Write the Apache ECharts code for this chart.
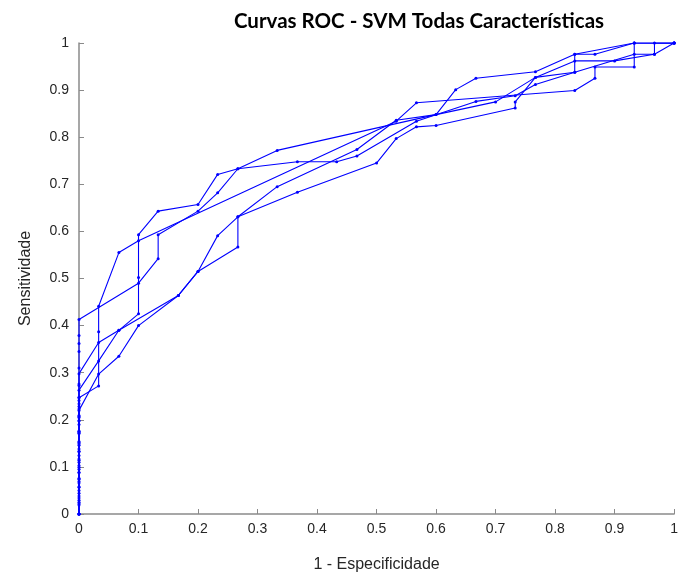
<!DOCTYPE html>
<html>
<head>
<meta charset="utf-8">
<script src="https://cdn.jsdelivr.net/npm/echarts@6/dist/echarts.min.js"></script>
<style>
  html, body { margin: 0; padding: 0; background: #ffffff; overflow: hidden; }
  #chart { width: 681px; height: 578px; }
</style>
</head>
<body>
<div id="chart"></div>
<script>
// ROC curves, one per cross-validation fold (false positive rate vs. true positive rate)
const fprFold1 = [0,0,0,0,0,0,0,0,0,0,0,0,0,0, 0.1,0.133,0.133,0.2,0.233,0.267,0.367,0.433,0.467,0.567,0.667,0.733,0.767,0.833,0.933,0.967,0.967,1];
const tprFold1 = [0,0.034,0.069,0.103,0.138,0.172,0.207,0.241,0.276,0.31,0.345,0.362,0.379,0.413, 0.49,0.542,0.593,0.643,0.682,0.733,0.748,0.748,0.76,0.834,0.876,0.888,0.912,0.938,0.976,0.976,1,1];

const fprFold2 = [0,0,0,0,0,0,0,0,0,0,0,0,0, 0.033,0.067,0.1,0.1,0.1,0.133,0.2,0.233,0.267,0.333,0.6,0.633,0.667,0.767,0.833,0.933,1];
const tprFold2 = [0,0.025,0.05,0.074,0.099,0.124,0.149,0.174,0.198,0.223,0.248,0.273,0.298, 0.364,0.39,0.425,0.502,0.593,0.643,0.657,0.721,0.733,0.772,0.848,0.901,0.925,0.939,0.976,1,1];

const fprFold3 = [0,0,0,0,0,0,0,0,0,0, 0.033,0.067,0.167,0.2,0.267,0.267,0.367,0.5,0.533,0.567,0.6,0.733,0.733,0.767,0.833,0.833,0.867,0.933,1];
const tprFold3 = [0,0.029,0.058,0.088,0.117,0.146,0.175,0.205,0.234,0.263, 0.325,0.39,0.464,0.515,0.567,0.631,0.683,0.745,0.797,0.822,0.825,0.862,0.875,0.927,0.938,0.976,0.976,1,1];

const fprFold4 = [0,0,0,0,0,0,0,0,0,0,0,0,0,0, 0.033,0.033,0.033,0.067,0.1,0.533,0.567,0.833,0.867,0.867,0.933,0.933,1];
const tprFold4 = [0,0.019,0.038,0.057,0.076,0.095,0.114,0.133,0.152,0.171,0.19,0.209,0.228,0.247, 0.272,0.387,0.441,0.555,0.58,0.834,0.873,0.899,0.925,0.949,0.949,1,1];

const fprFold5 = [0,0,0,0,0,0,0,0,0,0,0, 0.033,0.067,0.1,0.167,0.2,0.233,0.267,0.333,0.467,0.533,0.6,0.7,0.767,0.833,0.9,0.967,1];
const tprFold5 = [0,0.022,0.044,0.066,0.088,0.11,0.132,0.154,0.176,0.198,0.22, 0.297,0.335,0.40,0.464,0.515,0.591,0.631,0.695,0.774,0.836,0.848,0.875,0.927,0.962,0.962,0.976,1];

const folds = [
  [fprFold1, tprFold1],
  [fprFold2, tprFold2],
  [fprFold3, tprFold3],
  [fprFold4, tprFold4],
  [fprFold5, tprFold5]
];

const axisGray = '#8a8a8a';
const textGray = '#262626';
const curveBlue = '#0000ff';

const series = folds.map(([fpr, tpr]) => ({
  type: 'line',
  data: fpr.map((x, i) => [x, tpr[i]]),
  symbol: 'circle',
  symbolSize: 3,
  showSymbol: true,
  lineStyle: { color: curveBlue, width: 1.1 },
  itemStyle: { color: curveBlue },
  silent: true,
  animation: false
}));

const el = document.getElementById('chart');
const chart = echarts.init(el, null, { renderer: 'canvas', width: 681, height: 578 });
chart.setOption({
  backgroundColor: '#ffffff',
  animation: false,
  title: {
    text: 'Curvas ROC - SVM Todas Características',
    left: 414,
    top: 6,
    textAlign: 'center',
    textStyle: {
      fontFamily: 'Lato',
      fontWeight: 'bold',
      fontSize: 20.5,
      color: '#000000'
    }
  },
  grid: { left: 79, right: 2, top: 43, bottom: 62, containLabel: false },
  xAxis: {
    type: 'value',
    min: 0, max: 1, interval: 0.1,
    name: '1 - Especificidade',
    nameLocation: 'middle',
    nameGap: 43,
    nameTextStyle: { fontFamily: 'Liberation Sans', fontSize: 16, color: textGray },
    axisLine: { show: true, lineStyle: { color: axisGray, width: 1.5 } },
    axisTick: { show: true, inside: true, length: 5, lineStyle: { color: axisGray } },
    axisLabel: { fontFamily: 'Liberation Sans', fontSize: 14, color: textGray, margin: 8 },
    splitLine: { show: false }
  },
  yAxis: {
    type: 'value',
    min: 0, max: 1, interval: 0.1,
    name: 'Sensitividade',
    nameLocation: 'middle',
    nameGap: 45,
    nameRotate: 90,
    nameTextStyle: { fontFamily: 'Liberation Sans', fontSize: 16, color: textGray },
    axisLine: { show: true, lineStyle: { color: axisGray, width: 1.5 } },
    axisTick: { show: true, inside: true, length: 5, lineStyle: { color: axisGray } },
    axisLabel: { fontFamily: 'Liberation Sans', fontSize: 14, color: textGray, margin: 10 },
    splitLine: { show: false }
  },
  series: series
});
</script>
</body>
</html>
